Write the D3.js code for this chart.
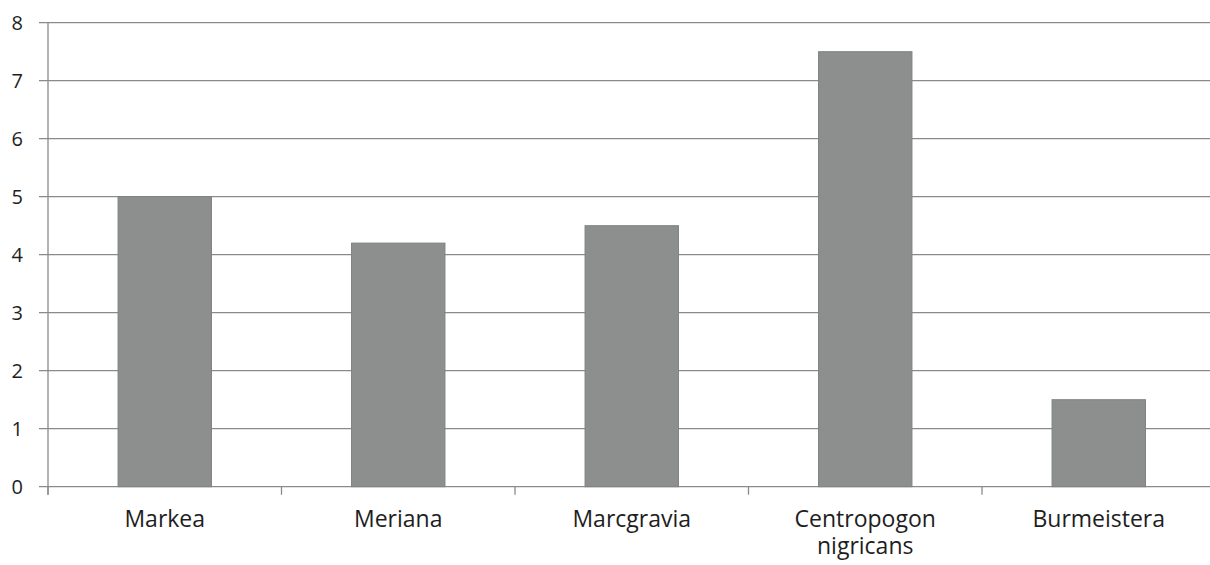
<!DOCTYPE html>
<html>
<head>
<meta charset="utf-8">
<script src="https://cdn.jsdelivr.net/npm/d3@7"></script>
<style>
  body { margin: 0; background: #fff; }
  svg text { font-family: "Open Sans", sans-serif; fill: #1e1e1e; }
</style>
</head>
<body>
<div id="container"></div>
<script>
/* CONSTANTS AND GLOBALS */
const width = 1210,
  height = 565,
  margin = { top: 22.7, right: -5.5, bottom: 78.3, left: 48 };

/* DATA */
const categories = ["Markea", "Meriana", "Marcgravia", "Centropogon nigricans", "Burmeistera"];
const values = [5.0, 4.2, 4.5, 7.5, 1.5];
const yTicks = [0, 1, 2, 3, 4, 5, 6, 7, 8];

const svg = d3.select("#container")
  .append("svg")
  .attr("width", width)
  .attr("height", height)

/* SCALES */
const xScale = d3.scaleBand()
  .domain(categories)
  .range([margin.left, width - margin.right])
  .paddingInner(0.6)
  .paddingOuter(0.3)

const yScale = d3.scaleLinear()
  .domain([0, 8])
  .range([height - margin.bottom, margin.top])

const step = xScale.step()

// gridlines
svg.selectAll(".grid")
  .data(yTicks)
  .join("line")
  .attr("class", "grid")
  .attr("x1", margin.left - 9)
  .attr("x2", width)
  .attr("y1", d => yScale(d))
  .attr("y2", d => yScale(d))
  .attr("stroke", "#8a8a8a")
  .attr("stroke-width", 1.3)

// bars
svg.selectAll(".bar")
  .data(values)
  .join("rect")
  .attr("class", "bar")
  .attr("x", (d, i) => xScale(categories[i]))
  .attr("y", d => yScale(d))
  .attr("width", xScale.bandwidth())
  .attr("height", d => yScale(0) - yScale(d))
  .attr("fill", "#8d8f8f")
  .attr("stroke", "#7f8282")
  .attr("stroke-width", 1)

// y axis line
svg.append("line")
  .attr("x1", margin.left).attr("x2", margin.left)
  .attr("y1", yScale(8)).attr("y2", yScale(0) + 8)
  .attr("stroke", "#8a8a8a")
  .attr("stroke-width", 1.3)

// x category ticks (band boundaries)
svg.selectAll(".xtick")
  .data(d3.range(categories.length + 1))
  .join("line")
  .attr("class", "xtick")
  .attr("x1", i => margin.left + i * step)
  .attr("x2", i => margin.left + i * step)
  .attr("y1", yScale(0))
  .attr("y2", yScale(0) + 8)
  .attr("stroke", "#8a8a8a")
  .attr("stroke-width", 1.3)

// y labels
svg.selectAll(".ylabel")
  .data(yTicks)
  .join("text")
  .attr("class", "ylabel")
  .attr("x", 23)
  .attr("y", d => yScale(d))
  .attr("dy", "0.35em")
  .attr("text-anchor", "end")
  .style("font-size", "20px")
  .text(d => d)

// x labels (wrapped)
const xLabels = svg.selectAll(".xlabel")
  .data(categories)
  .join("text")
  .attr("class", "xlabel")
  .attr("text-anchor", "middle")
  .style("font-size", "23px")

xLabels.each(function (d) {
  const words = d === "Centropogon nigricans" ? ["Centropogon", "nigricans"] : [d];
  const cx = xScale(d) + xScale.bandwidth() / 2;
  d3.select(this).selectAll("tspan")
    .data(words)
    .join("tspan")
    .attr("x", cx)
    .attr("y", (w, i) => 527 + i * 27)
    .text(w => w)
})
</script>
</body>
</html>
